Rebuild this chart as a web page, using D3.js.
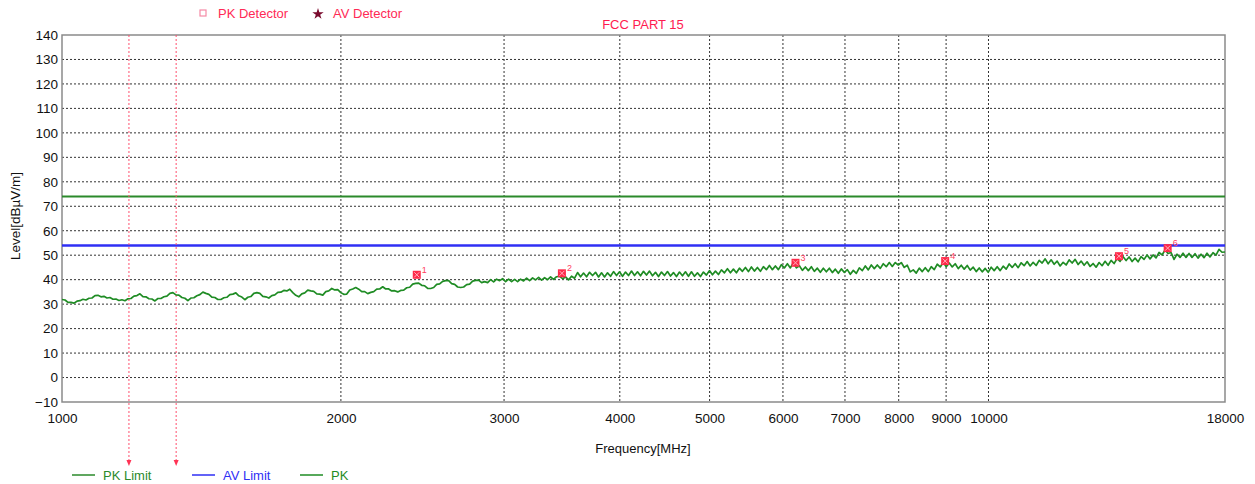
<!DOCTYPE html>
<html>
<head>
<meta charset="utf-8">
<script src="https://cdn.jsdelivr.net/npm/d3@7"></script>
<style>
  html, body { margin: 0; padding: 0; background: #fff; }
  svg { display: block; font-family: "Liberation Sans", Arial, sans-serif; }
</style>
</head>
<body>
<svg id="chart" width="1255" height="484"></svg>
<script>
// ---- data ----
const chartTitle = "FCC PART 15";
const xTicks = [1000, 2000, 3000, 4000, 5000, 6000, 7000, 8000, 9000, 10000, 18000];
const yTicks = [-10, 0, 10, 20, 30, 40, 50, 60, 70, 80, 90, 100, 110, 120, 130, 140];
const pkLimit = 74;   // dBµV/m
const avLimit = 54;   // dBµV/m
const rangeMarkersMHz = [1181, 1328];

// Final measurement points (PK detector)
const markerFreq = [2415, 3464, 6190, 8979, 13830, 15610];
const markerLevel = [42.0, 42.6, 46.9, 47.6, 49.6, 52.9];
const markerLabel = ["1", "2", "3", "4", "5", "6"];

// PK trace, sampled on a log-spaced frequency grid from sweepStart to sweepStop
const sweepStart = 1000, sweepStop = 18000;
const pkTrace = [
  31.9, 31.7, 30.7, 30.7, 30.4, 31.2, 31.4, 32.0, 31.7, 32.4,
  32.5, 33.5, 33.6, 33.0, 33.2, 32.5, 32.7, 32.0, 32.1, 31.5,
  31.8, 31.4, 32.2, 32.3, 33.3, 33.5, 34.2, 33.1, 33.0, 32.2,
  32.1, 31.3, 32.3, 32.3, 33.0, 33.3, 34.4, 34.7, 33.8, 33.7,
  32.7, 32.4, 31.4, 32.5, 32.6, 33.4, 33.9, 34.9, 34.4, 34.0,
  32.9, 32.7, 31.9, 31.9, 32.6, 32.8, 33.9, 34.1, 34.6, 33.4,
  32.9, 31.8, 32.8, 33.1, 34.4, 34.7, 34.4, 33.2, 33.0, 32.5,
  33.5, 33.8, 34.8, 34.9, 35.6, 35.4, 36.1, 34.7, 33.6, 33.0,
  34.2, 34.6, 35.7, 35.4, 35.2, 34.2, 34.1, 33.7, 35.1, 35.4,
  36.4, 35.8, 35.9, 34.7, 34.0, 34.1, 35.8, 36.2, 36.8, 36.1,
  35.1, 35.1, 34.3, 34.8, 35.1, 36.1, 36.2, 37.1, 36.2, 36.2,
  35.4, 35.5, 35.0, 35.6, 35.7, 36.7, 36.9, 38.2, 38.5, 38.6,
  37.7, 37.5, 36.4, 36.4, 36.8, 38.1, 38.3, 39.3, 39.6, 39.6,
  38.4, 38.1, 37.0, 36.8, 37.0, 38.0, 38.2, 39.4, 39.7, 39.8,
  38.8, 39.2, 38.8, 40.0, 39.1, 40.2, 39.6, 40.4, 39.2, 40.2,
  39.2, 40.1, 39.2, 40.2, 39.5, 40.6, 39.6, 40.7, 39.9, 40.9,
  39.8, 40.8, 40.0, 41.1, 40.1, 41.2, 41.4, 40.4, 41.1, 39.9,
  41.4, 40.6, 42.9, 41.2, 42.7, 41.2, 43.0, 41.7, 43.0, 41.1,
  42.8, 41.1, 42.8, 41.4, 43.3, 41.7, 43.2, 41.4, 43.1, 41.7,
  43.5, 41.7, 43.2, 41.6, 43.4, 41.9, 43.5, 41.6, 43.0, 41.3,
  43.1, 41.7, 43.3, 41.5, 42.9, 41.3, 43.1, 41.6, 43.2, 41.4,
  43.2, 41.4, 42.8, 41.3, 43.1, 41.9, 43.7, 42.0, 43.5, 42.1,
  44.0, 42.8, 44.5, 42.8, 44.3, 42.8, 44.7, 43.4, 45.0, 43.3,
  45.2, 43.5, 45.0, 43.4, 45.3, 44.1, 45.8, 44.1, 45.6, 44.1,
  46.1, 44.8, 46.5, 44.8, 47.0, 44.8, 45.7, 43.8, 45.2, 43.7,
  45.3, 43.4, 44.7, 43.0, 44.7, 43.2, 44.7, 42.9, 44.3, 42.6,
  44.4, 43.0, 44.1, 42.2, 43.8, 42.6, 44.8, 43.7, 45.6, 44.0,
  46.0, 44.5, 46.0, 44.6, 46.5, 45.3, 47.0, 45.4, 47.0, 46.0,
  47.0, 45.0, 45.9, 43.2, 44.0, 42.7, 44.7, 43.3, 44.9, 43.3,
  45.3, 44.1, 46.3, 45.2, 47.1, 45.3, 46.8, 45.2, 46.5, 44.5,
  45.9, 44.3, 45.8, 43.9, 45.1, 43.3, 44.8, 43.2, 44.6, 43.0,
  45.1, 43.7, 45.3, 43.7, 45.5, 44.3, 46.4, 45.0, 46.5, 44.9,
  46.9, 45.7, 47.4, 45.6, 47.1, 45.8, 47.9, 46.8, 48.5, 46.5,
  48.1, 46.3, 47.6, 45.6, 47.1, 46.0, 48.1, 46.8, 48.3, 46.2,
  47.6, 45.9, 47.3, 45.4, 46.6, 45.1, 47.0, 45.7, 47.5, 45.9,
  47.9, 46.6, 48.6, 47.5, 49.4, 47.8, 49.3, 47.4, 48.8, 47.3,
  49.4, 48.3, 50.1, 48.5, 50.1, 48.9, 51.1, 50.1, 52.1, 50.7,
  51.1, 48.3, 50.4, 49.1, 50.8, 49.1, 50.7, 49.1, 50.6, 48.8,
  50.4, 49.0, 50.8, 49.3, 51.0, 50.0, 52.4, 51.2, 51.3
];

// ---- layout ----
const plot = { left: 62, right: 1225, top: 35, bottom: 402 };
const svg = d3.select("#chart");

const x = d3.scaleLog().domain([1000, 18000]).range([plot.left, plot.right]);
const y = d3.scaleLinear().domain([-10, 140]).range([plot.bottom, plot.top]);

const traceData = pkTrace.map((v, i) => ({
  f: sweepStart * Math.pow(sweepStop / sweepStart, i / (pkTrace.length - 1)),
  v
}));

// grid
const grid = svg.append("g");
grid.selectAll("line.h").data(yTicks.filter(d => d > -10 && d < 140)).join("line")
  .attr("x1", plot.left).attr("x2", plot.right)
  .attr("y1", d => y(d)).attr("y2", d => y(d))
  .attr("stroke", "#333").attr("stroke-width", 1).attr("stroke-dasharray", "2,2");
grid.selectAll("line.v").data(xTicks.filter(d => d > 1000 && d < 18000)).join("line")
  .attr("x1", d => x(d)).attr("x2", d => x(d))
  .attr("y1", plot.top).attr("y2", plot.bottom)
  .attr("stroke", "#333").attr("stroke-width", 1).attr("stroke-dasharray", "2,2");

// plot frame
svg.append("rect")
  .attr("x", plot.left).attr("y", plot.top)
  .attr("width", plot.right - plot.left).attr("height", plot.bottom - plot.top)
  .attr("fill", "none").attr("stroke", "#8a8a8a").attr("stroke-width", 1.5);

// axes
const yAxis = d3.axisLeft(y).tickValues(yTicks).tickSize(0).tickPadding(4).tickFormat(d3.format("d"));
const gy = svg.append("g").attr("transform", `translate(${plot.left},0)`).call(yAxis);
gy.select(".domain").remove();
gy.selectAll("text").attr("font-size", 13.5).attr("fill", "#111")
  .attr("font-family", "'Liberation Sans', Arial, sans-serif");

const xAxis = d3.axisBottom(x).tickValues(xTicks).tickSize(0).tickPadding(11).tickFormat(d3.format("d"));
const gx = svg.append("g").attr("transform", `translate(0,${plot.bottom})`).call(xAxis);
gx.select(".domain").remove();
gx.selectAll("text").attr("font-size", 13.5).attr("fill", "#111")
  .attr("font-family", "'Liberation Sans', Arial, sans-serif");

// limit lines
svg.append("line")
  .attr("x1", plot.left).attr("x2", plot.right)
  .attr("y1", y(pkLimit)).attr("y2", y(pkLimit))
  .attr("stroke", "#2b8a2b").attr("stroke-width", 2);
svg.append("line")
  .attr("x1", plot.left).attr("x2", plot.right)
  .attr("y1", y(avLimit)).attr("y2", y(avLimit))
  .attr("stroke", "#2f2ff5").attr("stroke-width", 2.5);

// range markers with arrowheads
const rm = svg.append("g");
rangeMarkersMHz.forEach(f => {
  const px = x(f);
  rm.append("line")
    .attr("x1", px).attr("x2", px).attr("y1", plot.top).attr("y2", 462)
    .attr("stroke", "#ff4f6e").attr("stroke-width", 1).attr("stroke-dasharray", "2,2");
  rm.append("path")
    .attr("d", `M${px - 2.5},460 L${px + 2.5},460 L${px},466 Z`)
    .attr("fill", "#ff3355");
});

// PK trace
const line = d3.line().x(d => x(d.f)).y(d => y(d.v));
svg.append("path").datum(traceData)
  .attr("d", line).attr("fill", "none")
  .attr("stroke", "#1f8c24").attr("stroke-width", 1.7).attr("stroke-linejoin", "round");

// markers
const mk = svg.append("g");
markerFreq.forEach((f, i) => {
  const px = x(f), py = y(markerLevel[i]);
  mk.append("rect").attr("x", px - 4).attr("y", py - 4).attr("width", 8).attr("height", 8)
    .attr("fill", "#ff2a4a");
  mk.append("path")
    .attr("d", `M${px - 2.5},${py - 2.5} L${px + 2.5},${py + 2.5} M${px + 2.5},${py - 2.5} L${px - 2.5},${py + 2.5}`)
    .attr("stroke", "#ffb0bc").attr("stroke-width", 1);
  mk.append("text").attr("x", px + 5).attr("y", py - 2)
    .attr("font-size", 9).attr("fill", "#ff4060").text(markerLabel[i]);
});

// title
svg.append("text").attr("x", 643).attr("y", 29).attr("text-anchor", "middle")
  .attr("font-size", 13).attr("fill", "#ff1a4f").text(chartTitle);

// top legend (detectors)
svg.append("rect").attr("x", 200).attr("y", 10).attr("width", 6).attr("height", 6)
  .attr("fill", "none").attr("stroke", "#f58aa6").attr("stroke-width", 1.2);
svg.append("text").attr("x", 218).attr("y", 18).attr("font-size", 13)
  .attr("fill", "#ff2a55").text("PK Detector");
svg.append("path").attr("d", d3.symbol().type(d3.symbolStar).size(40)())
  .attr("transform", "translate(318,14)").attr("fill", "#7a0b2e");
svg.append("text").attr("x", 333).attr("y", 18).attr("font-size", 13)
  .attr("fill", "#ff2a55").text("AV Detector");

// axis titles
svg.append("text").attr("transform", "translate(20,216) rotate(-90)")
  .attr("text-anchor", "middle").attr("font-size", 13.5).attr("fill", "#111")
  .text("Level[dBµV/m]");
svg.append("text").attr("x", 643).attr("y", 453).attr("text-anchor", "middle")
  .attr("font-size", 13).attr("fill", "#111").text("Frequency[MHz]");

// bottom legend
const legendItems = [
  { label: "PK Limit", color: "#2b8a2b", x: 72 },
  { label: "AV Limit", color: "#2f2ff5", x: 192 },
  { label: "PK", color: "#1f8c24", x: 300 }
];
legendItems.forEach(it => {
  svg.append("line").attr("x1", it.x).attr("x2", it.x + 23).attr("y1", 475).attr("y2", 475)
    .attr("stroke", it.color).attr("stroke-width", 1.5);
  svg.append("text").attr("x", it.x + 31).attr("y", 480).attr("font-size", 13)
    .attr("fill", it.color).text(it.label);
});
</script>
</body>
</html>
